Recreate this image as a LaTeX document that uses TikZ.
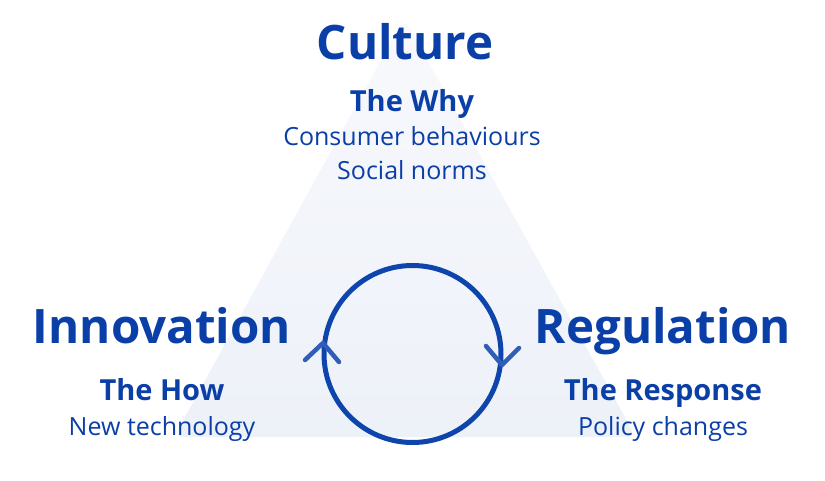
\documentclass[tikz,border=0pt]{standalone}
\usepackage{fontspec}
\setmainfont{Open Sans}
\definecolor{txt}{HTML}{0B3FA8}
\definecolor{ring}{HTML}{0E45AD}
\definecolor{chev}{HTML}{2F5DB8}
\definecolor{triTop}{HTML}{F8F9FD}
\definecolor{triBot}{HTML}{EDF1F8}
\tikzset{
  bigtitle/.style={text=txt, font=\fontsize{47.5}{56}\selectfont\bfseries, anchor=base, inner sep=0pt},
  subtitle/.style={text=txt, font=\fontsize{29}{34}\selectfont\bfseries, anchor=base, inner sep=0pt},
  detail/.style={text=txt, font=\fontsize{25}{30}\selectfont, anchor=base, inner sep=0pt},
  chevron/.style={draw=chev, line width=4.5pt, line cap=round, line join=round},
}
\begin{document}
\begin{tikzpicture}[x=1pt,y=-1pt]
\useasboundingbox (0,0) rectangle (825,481);
\shade[top color=triTop, bottom color=triBot, rounded corners=10pt] (404,18) -- (636,437) -- (174,437) -- cycle;
\node[circle, draw=ring, line width=5pt, minimum size=177pt, inner sep=0pt] (cyc) at (412.5,354) {};
\draw[chevron] (305,360) -- (323,343) -- (339,362);
\draw[chevron] (486,346) -- (502,365) -- (519,348);
\node[bigtitle] (culture) at (405,60) {Culture};
\node[subtitle] (why) at (412,112) {The Why};
\node[detail] (cons) at (412,146) {Consumer behaviours};
\node[detail] (soc) at (412,180) {Social norms};
\node[bigtitle] (innov) at (162,343) {Innovation};
\node[subtitle] (how) at (162,400) {The How};
\node[detail] (tech) at (162,435) {New technology};
\node[bigtitle] (reg) at (663,343) {Regulation};
\node[subtitle] (resp) at (663,400) {The Response};
\node[detail] (pol) at (663,435) {Policy changes};
\end{tikzpicture}
\end{document}
